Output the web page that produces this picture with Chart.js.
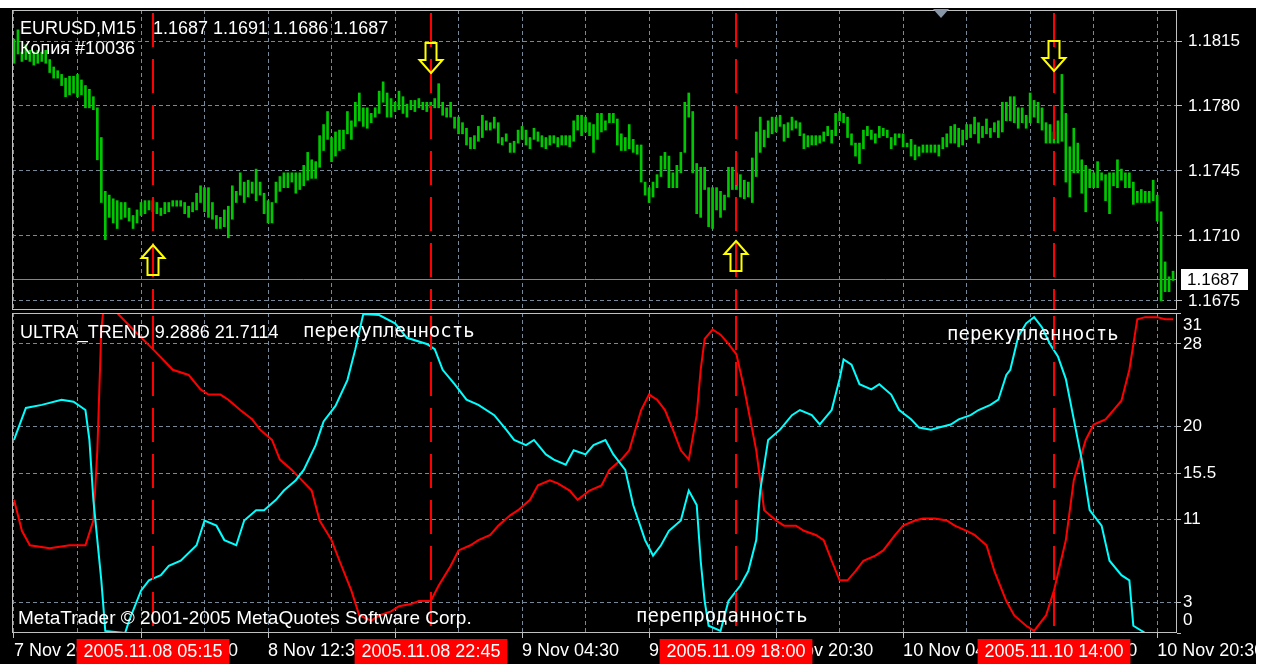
<!DOCTYPE html>
<html>
<head>
	<meta charset="utf-8">
	<title>EURUSD,M15 ULTRA_TREND</title>
	<script src="https://cdn.jsdelivr.net/npm/chart.js@4.4.1/dist/chart.umd.min.js"></script>
	<style>
		html, body { margin: 0; padding: 0; background: #fff; }
		#wrap { position: relative; width: 1267px; height: 664px; background: #000; overflow: hidden; }
		#priceChart { position: absolute; left: 0; top: 0; }
		#trendChart { position: absolute; left: 0; top: 311px; }
		.edge { position: absolute; background: #fff; }
	</style>
</head>
<body>
	<div id="wrap">
		<canvas id="priceChart" width="1267" height="311"></canvas>
		<canvas id="trendChart" width="1267" height="353"></canvas>
		<div class="edge" style="left:0;top:0;width:1267px;height:8px"></div>
		<div class="edge" style="left:1256px;top:0;width:11px;height:664px"></div>
	</div>
	<script>
		'use strict'

		// M15 bars, 7 Nov 20:30 .. 10 Nov 21:00
		const highs = [
			1.1816, 1.1821, 1.1809, 1.1813, 1.1810, 1.1809, 1.1810, 1.1809, 1.1810, 1.1805,
			1.1801, 1.1799, 1.1797, 1.1795, 1.1796, 1.1796, 1.1797, 1.1794, 1.1791, 1.1789,
			1.1785, 1.1779, 1.1763, 1.1734, 1.1732, 1.1730, 1.1729, 1.1728, 1.1728, 1.1725,
			1.1721, 1.1724, 1.1728, 1.1729, 1.1729, 1.1729, 1.1728, 1.1725, 1.1728, 1.1728,
			1.1729, 1.1729, 1.1729, 1.1728, 1.1726, 1.1728, 1.1733, 1.1737, 1.1736, 1.1736,
			1.1728, 1.1721, 1.1720, 1.1724, 1.1726, 1.1737, 1.1734, 1.1744, 1.1739, 1.1740,
			1.1739, 1.1746, 1.1739, 1.1733, 1.1729, 1.1728, 1.1739, 1.1742, 1.1744, 1.1744,
			1.1744, 1.1744, 1.1744, 1.1748, 1.1755, 1.1751, 1.1750, 1.1764, 1.1770, 1.1777,
			1.1763, 1.1766, 1.1767, 1.1767, 1.1777, 1.1772, 1.1782, 1.1787, 1.1779, 1.1779,
			1.1776, 1.1779, 1.1788, 1.1793, 1.1787, 1.1784, 1.1782, 1.1788, 1.1785, 1.1781,
			1.1783, 1.1783, 1.1784, 1.1782, 1.1782, 1.1782, 1.1784, 1.1792, 1.1782, 1.1779,
			1.1782, 1.1774, 1.1774, 1.1771, 1.1768, 1.1763, 1.1764, 1.1769, 1.1775, 1.1772,
			1.1771, 1.1774, 1.1771, 1.1763, 1.1765, 1.1760, 1.1761, 1.1767, 1.1769, 1.1767,
			1.1763, 1.1768, 1.1766, 1.1764, 1.1763, 1.1764, 1.1764, 1.1763, 1.1764, 1.1764,
			1.1764, 1.1772, 1.1775, 1.1775, 1.1774, 1.1771, 1.1770, 1.1776, 1.1776, 1.1772,
			1.1776, 1.1776, 1.1773, 1.1765, 1.1763, 1.1770, 1.1762, 1.1759, 1.1759, 1.1739,
			1.1736, 1.1739, 1.1743, 1.1753, 1.1755, 1.1753, 1.1744, 1.1748, 1.1755, 1.1782,
			1.1787, 1.1777, 1.1749, 1.1747, 1.1747, 1.1736, 1.1736, 1.1736, 1.1734, 1.1732,
			1.1747, 1.1747, 1.1744, 1.1743, 1.1740, 1.1739, 1.1752, 1.1766, 1.1774, 1.1767,
			1.1772, 1.1774, 1.1774, 1.1775, 1.1770, 1.1771, 1.1774, 1.1772, 1.1771, 1.1765,
			1.1764, 1.1764, 1.1764, 1.1764, 1.1766, 1.1769, 1.1767, 1.1776, 1.1777, 1.1776,
			1.1774, 1.1765, 1.1760, 1.1760, 1.1767, 1.1769, 1.1767, 1.1765, 1.1769, 1.1768,
			1.1767, 1.1763, 1.1765, 1.1765, 1.1765, 1.1760, 1.1762, 1.1759, 1.1758, 1.1759,
			1.1759, 1.1759, 1.1759, 1.1759, 1.1763, 1.1765, 1.1769, 1.1770, 1.1768, 1.1767,
			1.1770, 1.1770, 1.1774, 1.1771, 1.1769, 1.1773, 1.1768, 1.1771, 1.1772, 1.1782,
			1.1782, 1.1785, 1.1785, 1.1779, 1.1779, 1.1775, 1.1787, 1.1783, 1.1782, 1.1779,
			1.1771, 1.1770, 1.1766, 1.1772, 1.1797, 1.1776, 1.1758, 1.1768, 1.1760, 1.1751,
			1.1748, 1.1746, 1.1744, 1.1750, 1.1744, 1.1743, 1.1744, 1.1744, 1.1751, 1.1746,
			1.1744, 1.1744, 1.1739, 1.1734, 1.1735, 1.1734, 1.1734, 1.1740, 1.1732, 1.1723,
			1.1696, 1.1688, 1.1691
		]
		const lows = [
			1.1803, 1.1808, 1.1804, 1.1805, 1.1804, 1.1802, 1.1803, 1.1804, 1.1803, 1.1798,
			1.1795, 1.1795, 1.1791, 1.1785, 1.1786, 1.1787, 1.1785, 1.1786, 1.1779, 1.1779,
			1.1778, 1.1751, 1.1728, 1.1708, 1.1720, 1.1717, 1.1714, 1.1719, 1.1720, 1.1718,
			1.1714, 1.1717, 1.1721, 1.1722, 1.1724, 1.1723, 1.1722, 1.1721, 1.1722, 1.1723,
			1.1726, 1.1726, 1.1726, 1.1722, 1.1720, 1.1723, 1.1724, 1.1728, 1.1723, 1.1720,
			1.1719, 1.1714, 1.1714, 1.1715, 1.1709, 1.1719, 1.1728, 1.1732, 1.1728, 1.1731,
			1.1733, 1.1729, 1.1732, 1.1722, 1.1717, 1.1717, 1.1728, 1.1734, 1.1736, 1.1736,
			1.1739, 1.1733, 1.1735, 1.1737, 1.1740, 1.1741, 1.1741, 1.1747, 1.1756, 1.1762,
			1.1750, 1.1753, 1.1756, 1.1757, 1.1765, 1.1762, 1.1769, 1.1772, 1.1769, 1.1768,
			1.1771, 1.1774, 1.1776, 1.1782, 1.1774, 1.1774, 1.1777, 1.1778, 1.1776, 1.1774,
			1.1778, 1.1777, 1.1779, 1.1778, 1.1777, 1.1779, 1.1779, 1.1779, 1.1775, 1.1774,
			1.1774, 1.1768, 1.1765, 1.1765, 1.1759, 1.1757, 1.1757, 1.1761, 1.1763, 1.1767,
			1.1767, 1.1768, 1.1760, 1.1759, 1.1761, 1.1755, 1.1755, 1.1760, 1.1762, 1.1759,
			1.1757, 1.1762, 1.1761, 1.1758, 1.1757, 1.1759, 1.1760, 1.1758, 1.1759, 1.1759,
			1.1758, 1.1761, 1.1767, 1.1764, 1.1766, 1.1764, 1.1755, 1.1762, 1.1766, 1.1767,
			1.1771, 1.1771, 1.1759, 1.1756, 1.1756, 1.1757, 1.1755, 1.1754, 1.1739, 1.1732,
			1.1728, 1.1731, 1.1736, 1.1742, 1.1746, 1.1736, 1.1736, 1.1736, 1.1744, 1.1755,
			1.1774, 1.1744, 1.1722, 1.1720, 1.1735, 1.1715, 1.1714, 1.1724, 1.1720, 1.1724,
			1.1731, 1.1735, 1.1735, 1.1731, 1.1730, 1.1731, 1.1728, 1.1742, 1.1755, 1.1758,
			1.1763, 1.1765, 1.1766, 1.1769, 1.1761, 1.1763, 1.1767, 1.1768, 1.1764, 1.1757,
			1.1758, 1.1759, 1.1759, 1.1760, 1.1761, 1.1764, 1.1760, 1.1764, 1.1772, 1.1771,
			1.1763, 1.1759, 1.1753, 1.1749, 1.1757, 1.1764, 1.1762, 1.1760, 1.1763, 1.1764,
			1.1763, 1.1757, 1.1759, 1.1763, 1.1758, 1.1758, 1.1753, 1.1751, 1.1753, 1.1755,
			1.1755, 1.1755, 1.1755, 1.1753, 1.1757, 1.1758, 1.1760, 1.1760, 1.1758, 1.1759,
			1.1762, 1.1763, 1.1765, 1.1760, 1.1763, 1.1765, 1.1763, 1.1766, 1.1763, 1.1766,
			1.1772, 1.1772, 1.1771, 1.1768, 1.1771, 1.1768, 1.1771, 1.1774, 1.1771, 1.1767,
			1.1760, 1.1760, 1.1760, 1.1760, 1.1761, 1.1739, 1.1731, 1.1744, 1.1744, 1.1733,
			1.1723, 1.1736, 1.1736, 1.1736, 1.1740, 1.1729, 1.1722, 1.1737, 1.1736, 1.1740,
			1.1736, 1.1736, 1.1727, 1.1728, 1.1728, 1.1728, 1.1728, 1.1729, 1.1718, 1.1675,
			1.1680, 1.1680, 1.1686
		]
		const priceTicks = [1.1675, 1.1710, 1.1745, 1.1780, 1.1815]
		const bidPrice = 1.1687
		const lastOHLC = ['1.1687', '1.1691', '1.1686', '1.1687']

		// ULTRA_TREND lines (bar index, value)
		const cyanBars = [0, 3, 7, 12, 15, 18, 19, 20, 22, 23, 28, 29, 32, 34, 37, 39, 42, 46, 48, 51,
			53, 56, 58, 61, 63, 66, 68, 71, 73, 76, 78, 81, 84, 86, 88, 92, 96, 99, 104, 106,
			108, 111, 114, 117, 121, 124, 126, 129, 131, 134, 136, 139, 141, 144, 146, 149, 151, 154, 156, 159,
			161, 163, 165, 168, 170, 172, 173, 174, 175, 178, 180, 183, 185, 187, 188, 190, 193, 196, 198, 201,
			203, 206, 208, 209, 211, 213, 216, 218, 221, 223, 226, 228, 231, 233, 236, 238, 241, 243, 246, 248,
			250, 251, 253, 255, 257, 259, 261, 263, 265, 267, 269, 271, 274, 276, 279, 281, 282, 285, 292]
		const cyanVals = [18.7, 21.8, 22.1, 22.6, 22.4, 21.6, 18.7, 12.9, 5.1, 0.2, 0, 1.2, 4.1, 5.1, 5.6, 6.5, 7.0, 8.5, 10.9, 10.4,
			9.0, 8.5, 10.9, 11.9, 11.9, 12.9, 13.8, 14.8, 15.8, 18.2, 20.5, 22.0, 24.5, 27.5, 30.9, 30.8, 30.0, 28.6, 28.0, 27.5,
			25.5, 24.1, 22.6, 22.1, 21.1, 19.7, 18.7, 18.2, 18.7, 17.3, 16.8, 16.3, 17.7, 17.3, 18.2, 18.7, 17.3, 15.8, 12.4, 9.0,
			7.5, 8.5, 9.9, 10.9, 13.8, 12.4, 7.0, 3.1, 0.7, 0.2, 3.1, 4.6, 6.0, 9.0, 13.8, 18.7, 19.7, 21.1, 21.6, 21.1,
			20.2, 21.6, 24.6, 26.5, 26.0, 24.1, 23.6, 24.1, 23.1, 21.6, 20.7, 19.9, 19.7, 19.9, 20.2, 20.7, 21.1, 21.6, 22.1, 22.6,
			25.0, 25.5, 28.7, 30.0, 30.6, 29.6, 28.0, 26.8, 24.6, 20.7, 16.8, 11.9, 10.4, 7.0, 5.6, 5.1, 0.7, 0, 0]
		const redBars = [0, 2, 4, 9, 14, 18, 20, 21, 22, 23, 25, 26, 30, 35, 40, 44, 47, 49, 52, 54,
			57, 60, 62, 65, 67, 70, 72, 75, 77, 80, 82, 85, 87, 90, 92, 95, 97, 100, 102, 105,
			107, 110, 112, 115, 117, 120, 122, 125, 127, 130, 132, 135, 137, 140, 142, 145, 148, 150, 153, 155,
			158, 160, 162, 164, 166, 168, 170, 172, 173, 174, 176, 178, 180, 182, 184, 187, 189, 192, 194, 197,
			199, 202, 204, 206, 208, 210, 212, 214, 217, 219, 222, 224, 227, 229, 232, 235, 237, 240, 242, 245,
			247, 250, 252, 255, 257, 260, 262, 265, 267, 270, 272, 275, 277, 279, 281, 283, 285, 288, 290, 292]
		const redVals = [12.9, 9.9, 8.5, 8.2, 8.5, 8.5, 10.9, 17.7, 29.4, 33, 33, 31, 29.4, 27.5, 25.5, 25.0, 23.6, 23.1, 23.1, 22.6,
			21.6, 20.7, 19.7, 18.7, 16.8, 15.8, 15.0, 13.8, 10.9, 9.0, 7.0, 4.1, 1.7, 1.2, 1.7, 2.1, 2.6, 2.8, 3.1, 3.1,
			4.6, 6.5, 8.0, 8.5, 9.0, 9.5, 10.4, 11.4, 11.9, 12.9, 14.3, 14.8, 14.5, 13.8, 12.9, 13.8, 14.3, 15.8, 16.8, 17.7,
			21.6, 23.1, 22.6, 21.6, 19.7, 17.7, 16.8, 21.1, 25.5, 28.5, 29.4, 28.9, 28.0, 27.0, 23.6, 17.7, 11.9, 10.9, 10.4, 10.4,
			9.9, 9.5, 9.0, 7.0, 5.1, 5.1, 6.0, 7.0, 7.5, 8.0, 9.5, 10.4, 10.9, 11.1, 11.1, 10.9, 10.4, 9.9, 9.5, 8.5,
			6.0, 3.1, 1.7, 0.7, 0.2, 1.7, 4.1, 9.0, 14.8, 18.7, 20.2, 20.7, 21.6, 22.5, 25.5, 30.4, 30.6, 30.6, 30.4, 30.4]
		const trendTicks = [0, 3, 11, 15.5, 20, 28, 31]

		const timeLabels = ['7 Nov 20:30', '8 Nov 04:30', '8 Nov 12:30', '8 Nov 20:30', '9 Nov 04:30',
			'9 Nov 12:30', '9 Nov 20:30', '10 Nov 04:30', '10 Nov 12:30', '10 Nov 20:30']
		const signalBars = [35, 105, 182, 262]
		const signalTimes = ['2005.11.08 05:15', '2005.11.08 22:45', '2005.11.09 18:00', '2005.11.10 14:00']
		const arrowDirs = ['up', 'down', 'up', 'down']
		const arrowPrices = [1.1705, 1.1798, 1.1707, 1.1799]

		const GRID = '#778899'
		const FRAME = '#c0c0c0'
		const SANS = "'Liberation Sans', Arial, sans-serif"
		const MONO = "'DejaVu Sans Mono', monospace"

		Chart.defaults.font.family = SANS
		Chart.defaults.color = '#ffffff'
		Chart.defaults.animation = false

		// the plot area must not shrink for half-labels at the ends
		function noPad(s) {
			s.paddingTop = 0
			s.paddingBottom = 0
			s.paddingLeft = 0
			s.paddingRight = 0
		}

		// both panes share one bar axis, grid every 16 bars, labels every 32
		function barAxis(withLabels) {
			return {
				type: 'linear',
				min: -0.5,
				max: 293,
				offset: false,
				afterBuildTicks: s => {
					s.ticks = []
					for (let b = 0; b <= 292; b += 16) s.ticks.push({ value: b })
				},
				afterFit: s => {
					s.height = withLabels ? 31 : 0
					noPad(s)
				},
				grid: {
					color: GRID,
					offset: false,
					drawTicks: withLabels,
					tickLength: 5,
					tickColor: c => (c.tick && c.tick.value % 32 === 0) ? FRAME : 'transparent'
				},
				border: { display: false, dash: [4, 3] },
				ticks: {
					display: withLabels,
					autoSkip: false,
					maxRotation: 0,
					align: 'start',
					padding: 2,
					font: { size: 18 },
					callback: v => v % 32 === 0 ? timeLabels[v / 32] : ''
				}
			}
		}

		function drawFrame(chart) {
			const { ctx, chartArea: a } = chart
			ctx.save()
			ctx.strokeStyle = FRAME
			ctx.lineWidth = 1
			ctx.strokeRect(a.left + 0.5, a.top + 0.5, a.right - a.left - 1, a.bottom - a.top - 1)
			ctx.restore()
		}

		function drawSignalLines(chart) {
			const { ctx, chartArea: a, scales: { x } } = chart
			ctx.save()
			ctx.strokeStyle = '#ff0000'
			ctx.lineWidth = 2
			ctx.setLineDash([34, 12])
			ctx.lineDashOffset = -3
			signalBars.forEach(b => {
				const px = Math.round(x.getPixelForValue(b))
				ctx.beginPath()
				ctx.moveTo(px, a.top)
				ctx.lineTo(px, a.bottom)
				ctx.stroke()
			})
			ctx.restore()
		}

		function drawArrow(ctx, cx, tipY, dir) {
			const s = dir === 'up' ? 1 : -1
			const pts = [[0, 0], [11.5, 13], [5.5, 13], [5.5, 30], [-5.5, 30], [-5.5, 13], [-11.5, 13]]
			ctx.beginPath()
			pts.forEach(([dx, dy], i) => {
				const X = cx + dx, Y = tipY + s * dy
				if (i) ctx.lineTo(X, Y)
				else ctx.moveTo(X, Y)
			})
			ctx.closePath()
			ctx.stroke()
		}

		const priceDecor = {
			id: 'priceDecor',
			beforeDatasetsDraw(chart) {
				const { ctx, chartArea: a, scales: { y } } = chart
				const yb = Math.round(y.getPixelForValue(bidPrice)) + 0.5
				ctx.save()
				ctx.strokeStyle = GRID
				ctx.lineWidth = 1
				ctx.beginPath()
				ctx.moveTo(a.left, yb)
				ctx.lineTo(a.right, yb)
				ctx.stroke()
				ctx.restore()
			},
			afterDatasetsDraw(chart) {
				const { ctx, scales: { x, y } } = chart
				drawSignalLines(chart)
				ctx.save()
				ctx.strokeStyle = '#ffff00'
				ctx.lineWidth = 2
				signalBars.forEach((b, i) => {
					drawArrow(ctx, Math.round(x.getPixelForValue(b)), Math.round(y.getPixelForValue(arrowPrices[i])), arrowDirs[i])
				})
				ctx.restore()
			},
			afterDraw(chart) {
				const { ctx, scales: { y } } = chart
				drawFrame(chart)
				ctx.save()
				ctx.fillStyle = '#ffffff'
				ctx.font = '18px ' + SANS
				ctx.fillText('EURUSD,M15', 20, 34)
				ctx.fillText(lastOHLC.join(' '), 153, 34)
				ctx.fillText('Копия #10036', 20, 54)

				// bid price box
				const yb = Math.round(y.getPixelForValue(bidPrice))
				ctx.fillRect(1181, yb - 10, 67, 21)
				ctx.fillStyle = '#000000'
				ctx.font = '17px ' + SANS
				ctx.textBaseline = 'middle'
				ctx.fillText(bidPrice.toFixed(4), 1187, yb + 1)

				// chart shift marker
				ctx.fillStyle = '#8896a8'
				ctx.beginPath()
				ctx.moveTo(933, 9)
				ctx.lineTo(949, 9)
				ctx.lineTo(941, 18)
				ctx.closePath()
				ctx.fill()
				ctx.restore()
			}
		}

		const trendDecor = {
			id: 'trendDecor',
			afterDatasetsDraw(chart) {
				const { ctx } = chart
				drawSignalLines(chart)
				drawFrame(chart)
				ctx.save()
				ctx.fillStyle = '#ffffff'
				ctx.font = '18px ' + SANS
				ctx.fillText('ULTRA_TREND 9.2886 21.7114', 20, 27)
				ctx.font = '19px ' + SANS
				ctx.fillText('MetaTrader © 2001-2005 MetaQuotes Software Corp.', 18, 313)
				ctx.font = '19px ' + MONO
				ctx.fillText('перекупленность', 303, 26)
				ctx.fillText('перекупленность', 947, 29)
				ctx.fillText('перепроданность', 636, 311)
				ctx.restore()
			},
			afterDraw(chart) {
				const { ctx, scales: { x } } = chart
				ctx.save()
				ctx.font = '18px ' + SANS
				ctx.textAlign = 'center'
				ctx.textBaseline = 'middle'
				signalBars.forEach((b, i) => {
					const px = Math.round(x.getPixelForValue(b))
					const w = ctx.measureText(signalTimes[i]).width + 14
					ctx.fillStyle = '#ff0000'
					ctx.fillRect(px - w / 2, 328, w, 25)
					ctx.fillStyle = '#ffffff'
					ctx.fillText(signalTimes[i], px, 341)
				})
				ctx.restore()
			}
		}

		new Chart(document.getElementById('priceChart'), {
			type: 'bar',
			data: {
				datasets: [{
					data: highs.map((h, i) => ({ x: i, y: [lows[i], h] })),
					backgroundColor: '#00c800',
					borderWidth: 0,
					barThickness: 2,
					grouped: false
				}]
			},
			options: {
				responsive: false,
				layout: { padding: { left: 12, top: 10, right: 0, bottom: 1 } },
				plugins: { legend: { display: false }, tooltip: { enabled: false } },
				scales: {
					x: barAxis(false),
					y: {
						position: 'right',
						min: 1.16701,
						max: 1.18317,
						afterBuildTicks: s => { s.ticks = priceTicks.map(v => ({ value: v })) },
						afterFit: s => {
							s.width = 90
							noPad(s)
						},
						grid: { color: GRID, tickColor: FRAME, tickLength: 5 },
						border: { display: false, dash: [4, 3] },
						ticks: { autoSkip: false, padding: 6, font: { size: 17 }, callback: v => v.toFixed(4) }
					}
				}
			},
			plugins: [priceDecor]
		})

		new Chart(document.getElementById('trendChart'), {
			type: 'line',
			data: {
				datasets: [{
					data: cyanBars.map((b, i) => ({ x: b, y: cyanVals[i] })),
					borderColor: '#00ffff',
					borderWidth: 2,
					pointRadius: 0,
					tension: 0,
					clip: 0
				}, {
					data: redBars.map((b, i) => ({ x: b, y: redVals[i] })),
					borderColor: '#ff0000',
					borderWidth: 2,
					pointRadius: 0,
					tension: 0,
					clip: 0
				}]
			},
			options: {
				responsive: false,
				layout: { padding: { left: 12, top: 2, right: 0, bottom: 0 } },
				plugins: { legend: { display: false }, tooltip: { enabled: false } },
				scales: {
					x: barAxis(true),
					y: {
						position: 'right',
						min: 0,
						max: 31,
						afterBuildTicks: s => { s.ticks = trendTicks.map(v => ({ value: v })) },
						afterFit: s => {
							s.width = 90
							noPad(s)
						},
						grid: {
							color: c => (c.tick && (c.tick.value === 0 || c.tick.value === 31)) ? 'transparent' : GRID,
							tickColor: FRAME,
							tickLength: 4
						},
						border: { display: false, dash: [4, 3] },
						ticks: {
							autoSkip: false,
							padding: 2,
							font: { size: 17, lineHeight: 1.5 },
							callback: v => v === 31 ? ['', '31'] : v === 0 ? ['0', ''] : String(v)
						}
					}
				}
			},
			plugins: [trendDecor]
		})
	</script>
</body>
</html>
